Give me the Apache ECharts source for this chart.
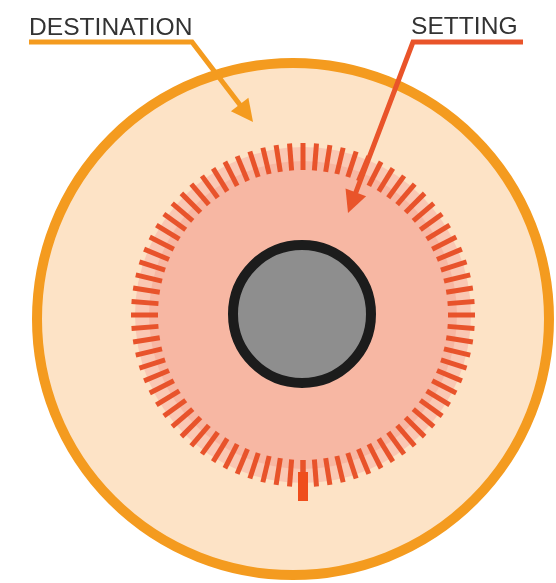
<!DOCTYPE html>
<html>
<head>
<meta charset="utf-8">
<script src="https://cdn.jsdelivr.net/npm/echarts@6/dist/echarts.min.js"></script>
<style>
html,body{margin:0;padding:0;background:#fff;}
#dial{width:556px;height:583px;}
</style>
</head>
<body>
<div id="dial"></div>
<script>
/*刻度盘数据*/
var dialRange = [0, 80];          // 80 格刻度
var settingValue = [0];           // 当前设定值（底部粗刻度）
var discNames = ['destination', 'settingBand', 'setting', 'core'];
var labelNames = ['DESTINATION', 'SETTING'];

/*带箭头的引线*/
function leader(points, color){
	var tip = points[points.length - 1];
	var from = points[points.length - 2];
	var dx = tip[0] - from[0], dy = tip[1] - from[1];
	var len = Math.sqrt(dx * dx + dy * dy);
	var ux = dx / len, uy = dy / len;
	var headLen = 22, half = 11;
	var bx = tip[0] - ux * headLen, by = tip[1] - uy * headLen;
	var line = points.slice(0, points.length - 1).concat([[bx + ux * 2, by + uy * 2]]);
	return [{
		type : 'polyline',
		shape : { points : line },
		style : { stroke : color, lineWidth : 5, fill : null, lineJoin : 'miter' },
		z : 20
	}, {
		type : 'polygon',
		shape : { points : [tip, [bx - uy * half, by + ux * half], [bx + uy * half, by - ux * half]] },
		style : { fill : color },
		z : 20
	}];
}

function disc(name, center, radius, color, z, border, borderWidth){
	return {
		name : name,
		type : 'pie',
		z : z,
		center : center,
		radius : [0, radius],
		silent : true,
		animation : false,
		label : { show : false },
		labelLine : { show : false },
		emphasis : { disabled : true },
		itemStyle : { color : color, borderColor : border || color, borderWidth : borderWidth || 0 },
		data : [{ value : 1, name : name }]
	};
}

var chart = echarts.init(document.getElementById('dial'));
var labelFont = '24.6px "Liberation Sans", Arial, sans-serif';
var option = {
	animation : false,
	backgroundColor : '#ffffff',
	series : [
		disc(discNames[0], [293, 319], 256, '#FDE3C6', 1, '#F49B1F', 10),
		disc(discNames[1], [303, 315], 168, '#FAC8B4', 2),
		disc(discNames[2], [303, 315], 154, '#F7B7A3', 3),
		{
			type : 'gauge',
			z : 5,
			center : [303, 315],
			radius : 182,
			startAngle : 270,
			endAngle : -90,
			min : dialRange[0],
			max : dialRange[1],
			splitNumber : dialRange[1] - dialRange[0],
			silent : true,
			axisLine : { show : false },
			axisTick : { show : false },
			axisLabel : { show : false },
			splitLine : {
				show : true,
				distance : 0,
				length : 27,
				lineStyle : { color : '#E8532B', width : 5, cap : 'butt' }
			},
			pointer : {
				show : true,
				icon : 'rect',
				width : 10,
				length : 29,
				offsetCenter : [0, -157],
				keepAspect : false,
				itemStyle : { color : '#EF4E1C' }
			},
			anchor : { show : false },
			title : { show : false },
			detail : { show : false },
			data : settingValue.map(function(v){ return { value : v }; })
		},
		disc(discNames[3], [302, 314], 69, '#8E8E8E', 8, '#1C1C1C', 10)
	],
	graphic : [{
		type : 'text',
		style : { x : 29, y : 28, text : labelNames[0], font : labelFont, fill : '#333333', verticalAlign : 'middle' },
		z : 20
	}, {
		type : 'text',
		style : { x : 411, y : 27, text : labelNames[1], font : labelFont, fill : '#333333', verticalAlign : 'middle' },
		z : 20
	}]
		.concat(leader([[29, 42], [192, 42], [253, 122]], '#F49B1F'))
		.concat(leader([[523, 42], [413, 42], [348, 213]], '#E9542A'))
};
chart.setOption(option);
</script>
</body>
</html>
